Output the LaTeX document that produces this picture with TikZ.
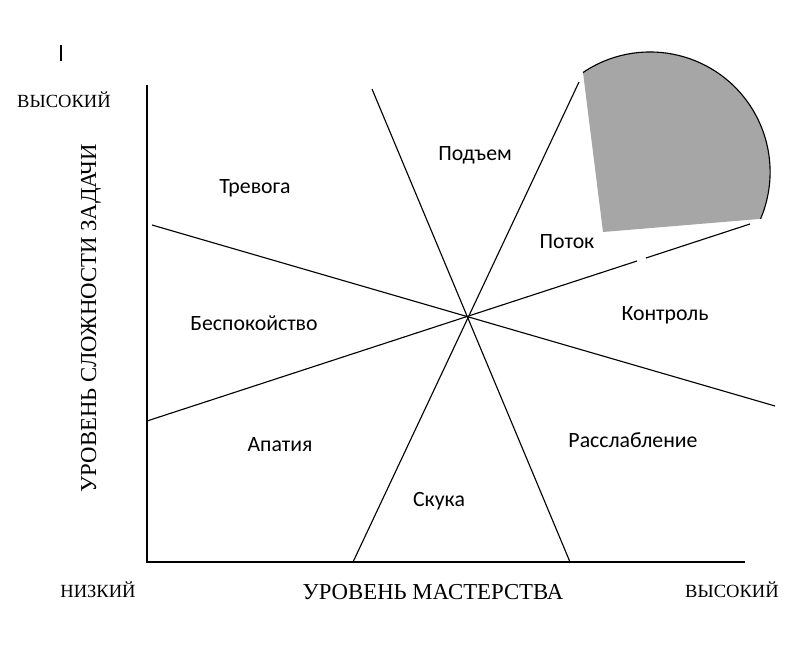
\documentclass[tikz,border=0pt]{standalone}
\usepackage{fontspec}
\setmainfont{Liberation Serif}
\newfontfamily\zonefont{Carlito}
\usepackage{tikz}

\begin{document}
\begin{tikzpicture}[x=0.025cm, y=-0.025cm, line width=0.8pt,
    zone/.style={font=\zonefont\fontsize{15.5}{18}\selectfont},
    axislabel/.style={font=\fontsize{16.2}{19}\selectfont},
    levellabel/.style={font=\fontsize{13.2}{15}\selectfont}]
  \useasboundingbox (0,0) rectangle (800,669);
  % axes
  \coordinate (top) at (147,85);
  \coordinate (origin) at (147,562);
  \coordinate (right) at (745,562);
  \draw (top) -- (origin) -- (right);
  % flow sector
  \fill[black!35] (603,232) -- (583,72.5) arc[start angle=-124, end angle=23, radius=120] -- cycle;
  \draw (583,72.5) arc[start angle=-124, end angle=23, radius=120];
  % lines through the centre
  \coordinate (a1) at (372,89);
  \coordinate (a2) at (570,562);
  \coordinate (b1) at (579,82);
  \coordinate (b2) at (353,562);
  \coordinate (c1) at (152,225);
  \coordinate (c2) at (775,406);
  \coordinate (d1) at (147,421);
  \coordinate (g1) at (637,261);
  \coordinate (g2) at (646,258);
  \coordinate (d2) at (750,224);
  \draw (a1) -- (a2);
  \draw (b1) -- (b2);
  \draw (c1) -- (c2);
  \draw (d1) -- (g1);
  \draw (g2) -- (d2);
  \draw (61,45) -- (61,61);
  % zones
  \node[zone] (anx) at (255,188) {Тревога};
  \node[zone] (arousal) at (475,155) {Подъем};
  \node[zone] (flow) at (567,242) {Поток};
  \node[zone] (worry) at (254,323) {Беспокойство};
  \node[zone] (control) at (665,315) {Контроль};
  \node[zone] (apathy) at (280,445) {Апатия};
  \node[zone] (relax) at (633,440) {Расслабление};
  \node[zone] (boredom) at (439,501) {Скука};
  % axis labels
  \node[levellabel] (yhigh) at (64,100) {ВЫСОКИЙ};
  \node[levellabel] (low) at (98,590) {НИЗКИЙ};
  \node[levellabel] (xhigh) at (732,590) {ВЫСОКИЙ};
  \node[axislabel] (xlabel) at (433,592) {УРОВЕНЬ МАСТЕРСТВА};
  \node[axislabel, rotate=90] (ylabel) at (91,318) {УРОВЕНЬ СЛОЖНОСТИ ЗАДАЧИ};
\end{tikzpicture}
\end{document}
